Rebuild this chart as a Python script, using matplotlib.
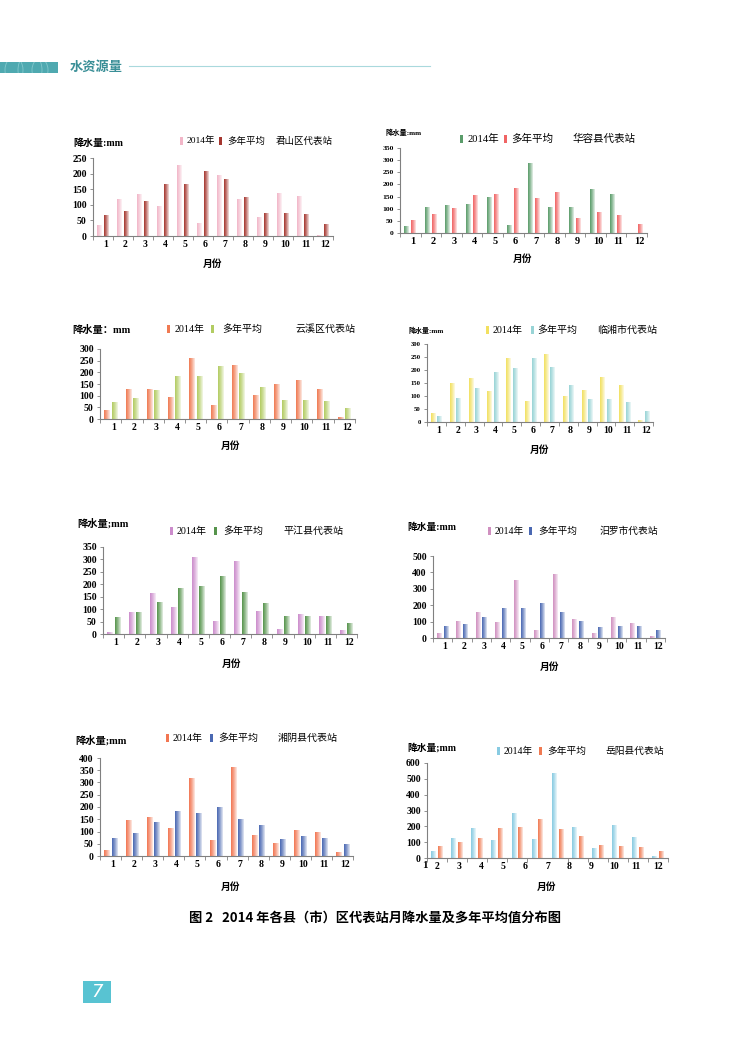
import numpy as np
import matplotlib
matplotlib.use("Agg")
import matplotlib.pyplot as plt
from matplotlib.patches import Rectangle, Circle
from matplotlib.colors import LinearSegmentedColormap, to_rgb

plt.rcParams['font.family'] = ['Liberation Serif', 'Noto Sans CJK SC', 'DejaVu Sans']

months = [str(m) for m in range(1, 13)]
series_names = ['2014年', '多年平均']

stations = ['君山区代表站', '华容县代表站', '云溪区代表站', '临湘市代表站',
            '平江县代表站', '汨罗市代表站', '湘阴县代表站', '岳阳县代表站']

junshan_2014 = [33, 118, 132, 95, 227, 40, 193, 116, 58, 136, 126, 3]
junshan_avg = [65, 78, 112, 164, 164, 208, 180, 122, 72, 72, 69, 36]

huarong_2014 = [28, 104, 115, 118, 147, 30, 286, 107, 103, 181, 160, 0]
huarong_avg = [53, 78, 99, 153, 157, 185, 143, 167, 60, 85, 71, 36]

yunxi_2014 = [35, 128, 128, 92, 260, 57, 230, 102, 146, 167, 127, 7]
yunxi_avg = [70, 88, 122, 180, 180, 225, 197, 137, 80, 80, 76, 43]

linxiang_2014 = [33, 150, 167, 116, 246, 79, 258, 99, 123, 173, 142, 5]
linxiang_avg = [20, 90, 127, 191, 206, 246, 210, 139, 88, 88, 75, 42]

pingjiang_2014 = [8, 85, 163, 108, 308, 52, 293, 90, 20, 78, 72, 13]
pingjiang_avg = [68, 88, 128, 185, 192, 232, 167, 122, 72, 72, 72, 42]

miluo_2014 = [28, 98, 158, 93, 353, 45, 388, 110, 28, 122, 87, 8]
miluo_avg = [68, 85, 122, 182, 182, 208, 157, 98, 62, 73, 73, 45]

xiangyin_2014 = [23, 143, 158, 113, 318, 63, 360, 82, 50, 103, 97, 13]
xiangyin_avg = [70, 90, 135, 182, 175, 197, 150, 123, 67, 80, 73, 45]

yueyang_2014 = [40, 125, 185, 108, 283, 115, 535, 195, 57, 205, 130, 8]
yueyang_avg = [72, 95, 125, 185, 195, 243, 180, 135, 80, 72, 68, 42]

ylabels = ['降水量:mm', '降水量:mm', '降水量：mm', '降水量:mm',
           '降水量;mm', '降水量:mm', '降水量;mm', '降水量;mm']
xlabel_text = '月份'
caption = '图 2   2014 年各县（市）区代表站月降水量及多年平均值分布图'
header_text = '水资源量'
page_no = '7'

data = [(junshan_2014, junshan_avg), (huarong_2014, huarong_avg),
        (yunxi_2014, yunxi_avg), (linxiang_2014, linxiang_avg),
        (pingjiang_2014, pingjiang_avg), (miluo_2014, miluo_avg),
        (xiangyin_2014, xiangyin_avg), (yueyang_2014, yueyang_avg)]

# ---------- layout / style (pixels in a 750x1060 page) ----------
W, H = 750, 1060
fig = plt.figure(figsize=(7.5, 10.6), dpi=100)


def fx(x):
    return x / W


def fy(y):
    return 1 - y / H


# axis box: left, right, top(ymax), bottom(0), ymax, step
boxes = [
    (93, 333, 158, 236, 250, 50),
    (400, 647, 148, 233, 350, 50),
    (100, 355, 349, 419, 300, 50),
    (427, 653, 344, 422, 300, 50),
    (103, 357, 547, 634, 350, 50),
    (433, 665, 556, 638, 500, 100),
    (100, 353, 758, 856, 400, 50),
    (427, 668, 763, 858, 600, 100),
]
colors = [
    ('#f2b6c8', '#a5362f'),
    ('#5a9c6a', '#f06464'),
    ('#f07a52', '#b2cc62'),
    ('#f2e060', '#98d4d6'),
    ('#cc8ccc', '#56944c'),
    ('#d090c0', '#4a68b2'),
    ('#f27652', '#4a68b2'),
    ('#88cbe2', '#f07a52'),
]
# ylabel (x_left, y, size); legend (marker1 x, text1 x, marker2 x, text2 x, y);
# title x; xlabel (x, y); y tick size; x tick size; legend size
texts = [
    ((73, 143, 7.2), (181, 187, 220, 227, 141), 276, (213, 264), 7, 7, 6.8),
    ((385, 132, 5.2), (461, 467, 505, 511, 139), 573, (523, 259), 5.4, 7.5, 7.6),
    ((72, 330, 7.4), (168, 175, 213, 222, 329), 295, (231, 446), 7, 7, 7.2),
    ((408, 330, 5.0), (487, 493, 532, 537, 330), 597, (540, 450), 4.8, 7, 7.2),
    ((77, 523, 7.4), (171, 177, 215, 223, 531), 283, (232, 664), 7, 7, 7.2),
    ((407, 527, 7.0), (489, 495, 530, 538, 531), 600, (550, 667), 7, 7, 7.0),
    ((75, 740, 7.4), (167, 173, 211, 218, 738), 278, (231, 887), 7, 7, 7.2),
    ((407, 748, 7.0), (498, 504, 540, 547, 751), 606, (547, 887), 7, 7, 7.0),
]

bw = 0.24
off = 0.17
x = np.arange(1, 13)


def lighten(c, f):
    r = np.array(to_rgb(c))
    return tuple(r + (1 - r) * f)


def gradient_bars(ax, bars, color):
    cmap = LinearSegmentedColormap.from_list('g', [color, lighten(color, 0.35), lighten(color, 0.85)])
    for b in bars:
        x0, y0 = b.get_x(), b.get_y()
        w, h = b.get_width(), b.get_height()
        if h <= 0:
            continue
        ax.imshow(np.linspace(0, 1, 32).reshape(1, -1), extent=[x0, x0 + w, y0, y0 + h],
                  aspect='auto', cmap=cmap, zorder=2, interpolation='bilinear')
        b.set_visible(False)


fam = ['Liberation Serif', 'Noto Sans CJK SC']

for i, ((s14, savg), box, (c14, cavg), tx) in enumerate(zip(data, boxes, colors, texts)):
    L, R, T, B, ymax, step = box
    ax = fig.add_axes([fx(L), fy(B), fx(R) - fx(L), fy(T) - fy(B)])
    b1 = ax.bar(x - off, s14, bw, color=c14)
    b2 = ax.bar(x + off, savg, bw, color=cavg)
    gradient_bars(ax, b1, c14)
    gradient_bars(ax, b2, cavg)
    ax.set_xlim(0.5, 12.5)
    ax.set_ylim(0, ymax)
    ax.set_aspect('auto')
    for s in ['top', 'right']:
        ax.spines[s].set_visible(False)
    for s in ['left', 'bottom']:
        ax.spines[s].set_color('#808080')
        ax.spines[s].set_linewidth(0.8)
    (ylx, yly, yls), (m1, t1, m2, t2, ly), titx, (xlx, xly), ysz, xsz, lsz = tx
    ax.set_yticks(np.arange(0, ymax + 1, step))
    ax.set_yticklabels([str(v) for v in np.arange(0, ymax + 1, step)],
                       fontsize=ysz, fontweight='bold', family='Liberation Serif')
    ax.tick_params(axis='y', length=2.5, width=0.6, color='#808080', pad=2)
    if i == 7:
        pos = np.linspace(1, 12, 11)
        ax.set_xticks(pos)
        ax.set_xticklabels(months[1:], fontsize=xsz, fontweight='bold', family='Liberation Serif')
        ax.text(0.4, -ymax * 0.035, months[0], fontsize=xsz + 1, fontweight='bold',
                family='Liberation Serif', ha='center', va='top', clip_on=False)
    else:
        ax.set_xticks(x + 0.12)
        ax.set_xticklabels(months, fontsize=xsz, fontweight='bold', family='Liberation Serif')
    ax.tick_params(axis='x', length=0, pad=3)
    ax.set_xticks(np.arange(0.5, 13, 1), minor=True)
    ax.tick_params(axis='x', which='minor', length=3, width=0.6, color='#808080')
    ax.patch.set_alpha(0)

    fig.text(fx(ylx), fy(yly), ylabels[i], fontsize=yls, fontweight='bold', family=fam,
             ha='left', va='center')
    for mx, c in [(m1, c14), (m2, cavg)]:
        fig.patches.append(Rectangle((fx(mx - 1.5), fy(ly + 4)), fx(3), fy(ly - 4) - fy(ly + 4),
                                     transform=fig.transFigure, facecolor=c, edgecolor='none'))
    fig.text(fx(t1), fy(ly), series_names[0], fontsize=lsz, family=fam, ha='left', va='center')
    fig.text(fx(t2), fy(ly), series_names[1], fontsize=lsz, family=fam, ha='left', va='center')
    fig.text(fx(titx), fy(ly), stations[i], fontsize=lsz, family=fam, ha='left', va='center')
    fig.text(fx(xlx), fy(xly), xlabel_text, fontsize=7, fontweight='bold', family=fam,
             ha='center', va='center')

# header band with faint decorative arcs
band = Rectangle((0, fy(73)), fx(58), fy(62) - fy(73), transform=fig.transFigure,
                 facecolor='#4fa9b0', edgecolor='none')
fig.patches.append(band)
for cxp, rp in [(14, 9), (30, 12), (40, 8)]:
    circ = Circle((fx(cxp), fy(70)), rp / W, transform=fig.transFigure, facecolor='none',
                  edgecolor='#8fd0d4', linewidth=0.6, alpha=0.8)
    circ.set_clip_path(band)
    fig.patches.append(circ)
fig.text(fx(70), fy(67), header_text, fontsize=9.5, style='italic', fontweight='bold',
         color='#3a8f97', family=['Noto Sans CJK SC'], ha='left', va='center')
fig.add_artist(plt.Line2D([fx(129), fx(430)], [fy(66), fy(66)], transform=fig.transFigure,
                          color='#a9d9dd', linewidth=0.8))

# caption
fig.text(fx(375), fy(918), caption, fontsize=9.5, fontweight='bold',
         family=['Noto Sans CJK SC'], ha='center', va='center')

# page number
fig.patches.append(Rectangle((fx(83), fy(1003)), fx(28), fy(981) - fy(1003), transform=fig.transFigure,
                             facecolor='#58c3d2', edgecolor='none'))
fig.text(fx(97), fy(992), page_no, fontsize=13, color='white', style='italic',
         family=['DejaVu Sans'], ha='center', va='center')

fig.savefig('out.png', dpi=100)
